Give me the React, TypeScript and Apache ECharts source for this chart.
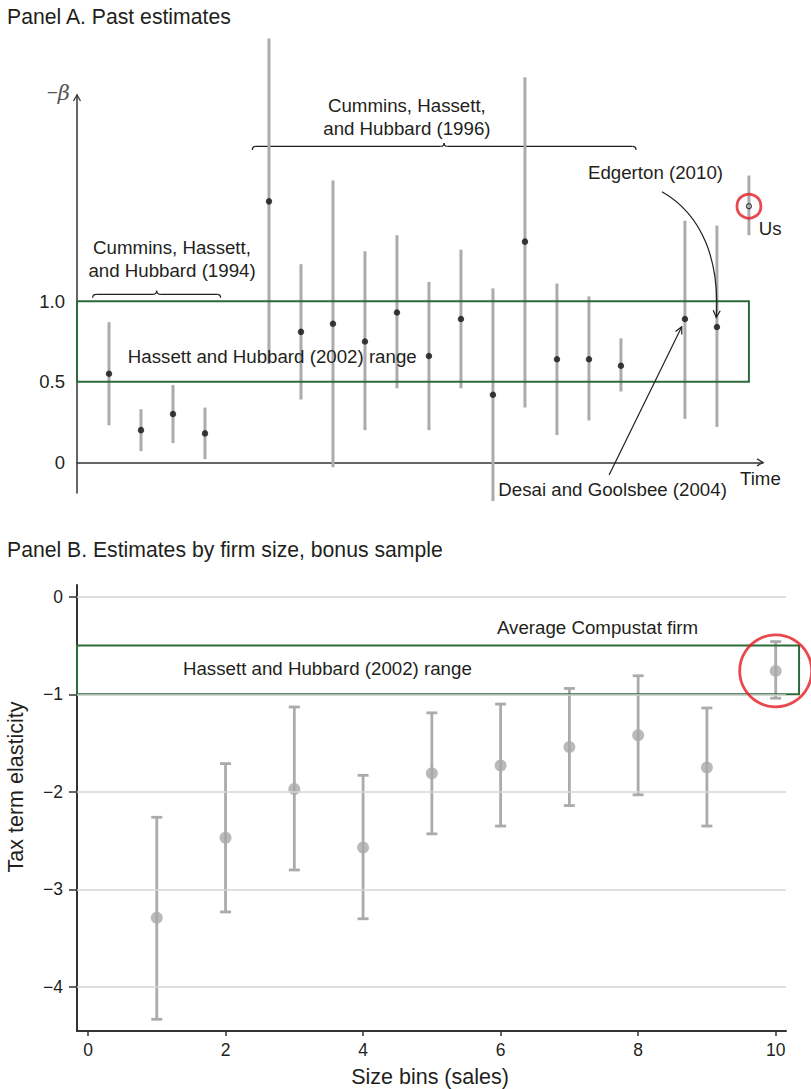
import React, { useEffect, useRef } from "react";
import * as echarts from "echarts";

const FONT = '"Liberation Sans", Arial, Helvetica, sans-serif';
const INK = "#231f20";
const BAR = "#ababad";
const DOT_B = "#a9a9ab";
const GREEN = "#2b6a3a";
const RED = "#e41b22";
const AXIS = "#333333";
const ANN = 18.7;

// ---------------- Panel A: past estimates ----------------
const pastPos = [1, 2, 3, 4, 6, 7, 8, 9, 10, 11, 12, 13, 14, 15, 16, 17, 19, 20];
const pastEst = [0.55, 0.2, 0.3, 0.18, 1.62, 0.81, 0.86, 0.75, 0.93, 0.66, 0.89, 0.42, 1.37, 0.64, 0.64, 0.6, 0.89, 0.84];
const pastLow = [0.23, 0.07, 0.12, 0.02, 0.61, 0.39, -0.03, 0.2, 0.46, 0.2, 0.46, -0.24, 0.34, 0.17, 0.26, 0.44, 0.27, 0.22];
const pastHigh = [0.87, 0.33, 0.48, 0.34, 2.63, 1.23, 1.75, 1.31, 1.41, 1.12, 1.32, 1.08, 2.39, 1.11, 1.03, 0.77, 1.5, 1.47];
const usPos = [21];
const usEst = [1.59];
const usLow = [1.41];
const usHigh = [1.78];
const hhRangeA = [0.5, 1.0];
const panelAYTicks = [0, 0.5, 1.0];

// ---------------- Panel B: estimates by firm size ----------------
const bins = [1, 2, 3, 4, 5, 6, 7, 8, 9, 10];
const binEst = [-3.29, -2.47, -1.97, -2.57, -1.81, -1.73, -1.54, -1.42, -1.75, -0.76];
const binLow = [-4.33, -3.23, -2.8, -3.3, -2.43, -2.35, -2.14, -2.03, -2.35, -1.04];
const binHigh = [-2.26, -1.71, -1.13, -1.83, -1.19, -1.1, -0.94, -0.81, -1.14, -0.46];
const hhRangeB = [-1, -0.5];
const panelBYTicks = [0, -1, -2, -3, -4];
const panelBXTicks = [0, 2, 4, 6, 8, 10];

const minus = (v: number) => (v < 0 ? "\u2212" + Math.abs(v) : String(v));

export default function App() {
  const ref = useRef<HTMLDivElement>(null);
  useEffect(() => {
    document.body.style.margin = "0";
    const chart = echarts.init(ref.current!, undefined, { renderer: "svg" });

    const rectItem = (params: any, api: any) => {
      const p0 = api.coord([api.value(0), api.value(1)]);
      const p1 = api.coord([api.value(2), api.value(3)]);
      return {
        type: "rect",
        shape: { x: p0[0], y: p1[1], width: p1[0] - p0[0], height: p0[1] - p1[1] },
        style: { fill: "none", stroke: GREEN, lineWidth: 2 },
      };
    };

    const option: any = {
      animation: false,
      backgroundColor: "#ffffff",
      grid: [
        { left: 77, top: 95, width: 686, height: 398 },
        { left: 77, top: 585, width: 709, height: 446 },
      ],
      xAxis: [
        {
          gridIndex: 0, type: "value", min: 0, max: 21.44,
          axisLine: { show: true, onZero: true, lineStyle: { color: AXIS, width: 1.5 } },
          axisTick: { show: false }, axisLabel: { show: false }, splitLine: { show: false },
        },
        {
          gridIndex: 1, type: "value", min: -0.16, max: 10.15,
          axisLine: { show: true, onZero: false, lineStyle: { color: AXIS, width: 2 } },
          axisTick: { show: true, length: 5, customValues: panelBXTicks, lineStyle: { color: AXIS, width: 1.5 } },
          axisLabel: { customValues: panelBXTicks, margin: 10, fontSize: 17.5, fontFamily: FONT, color: INK },
          splitLine: { show: false },
        },
      ],
      yAxis: [
        {
          gridIndex: 0, type: "value", min: -0.19, max: 2.28,
          axisLine: { show: true, onZero: false, lineStyle: { color: AXIS, width: 1.5 } },
          axisTick: { show: false },
          axisLabel: {
            customValues: panelAYTicks, margin: 12, fontSize: 18.5, fontFamily: FONT, color: INK,
            formatter: (v: number) => (v === 0 ? "0" : v.toFixed(1)),
          },
          splitLine: { show: false },
        },
        {
          gridIndex: 1, type: "value", min: -4.45, max: 0.12,
          axisLine: { show: true, onZero: false, lineStyle: { color: AXIS, width: 2 } },
          axisTick: { show: true, length: 8, customValues: panelBYTicks, lineStyle: { color: AXIS, width: 1.5 } },
          axisLabel: { customValues: panelBYTicks, margin: 14, fontSize: 17.5, fontFamily: FONT, color: INK, formatter: minus },
          splitLine: { show: false },
        },
      ],
      series: [
        // Panel A error bars
        {
          type: "custom", xAxisIndex: 0, yAxisIndex: 0, clip: false, silent: true, z: 2,
          data: pastPos.map((p, i) => [p, pastLow[i], pastHigh[i]]).concat(usPos.map((p, i) => [p, usLow[i], usHigh[i]])),
          renderItem: (params: any, api: any) => {
            const a = api.coord([api.value(0), api.value(1)]);
            const b = api.coord([api.value(0), api.value(2)]);
            return { type: "line", shape: { x1: a[0], y1: a[1], x2: b[0], y2: b[1] }, style: { stroke: BAR, lineWidth: 3 } };
          },
        },
        // Panel A range box
        {
          type: "custom", xAxisIndex: 0, yAxisIndex: 0, clip: false, silent: true, z: 3,
          data: [[0, hhRangeA[0], usPos[0], hhRangeA[1]]],
          renderItem: rectItem,
        },
        // Panel A point estimates
        {
          type: "scatter", xAxisIndex: 0, yAxisIndex: 0, silent: true, z: 4, symbol: "circle", symbolSize: 6.5,
          itemStyle: { color: "#111" },
          data: pastPos.map((p, i) => [p, pastEst[i]]),
        },
        {
          type: "scatter", xAxisIndex: 0, yAxisIndex: 0, silent: true, z: 4, symbol: "circle", symbolSize: 5,
          itemStyle: { color: "rgba(0,0,0,0)", borderColor: INK, borderWidth: 1.3 },
          data: usPos.map((p, i) => [p, usEst[i]]),
        },
        {
          type: "scatter", xAxisIndex: 0, yAxisIndex: 0, silent: true, z: 5, clip: false, symbol: "circle", symbolSize: 24,
          itemStyle: { color: "rgba(0,0,0,0)", borderColor: RED, borderWidth: 2.8 },
          data: usPos.map((p, i) => [p, usEst[i]]),
        },
        // Panel B grid lines
        {
          type: "scatter", xAxisIndex: 1, yAxisIndex: 1, silent: true, z: 1, data: [],
          markLine: {
            silent: true, symbol: "none", label: { show: false },
            lineStyle: { color: "#d6d6d6", type: "solid", width: 1.5 },
            data: panelBYTicks.map((v) => ({ yAxis: v })),
          },
        },
        // Panel B error bars with caps
        {
          type: "custom", xAxisIndex: 1, yAxisIndex: 1, clip: false, silent: true, z: 2,
          data: bins.map((b, i) => [b, binLow[i], binHigh[i]]),
          renderItem: (params: any, api: any) => {
            const a = api.coord([api.value(0), api.value(1)]);
            const b = api.coord([api.value(0), api.value(2)]);
            const st = { stroke: BAR, lineWidth: 2.8 };
            const cw = 5.5;
            return {
              type: "group",
              children: [
                { type: "line", shape: { x1: a[0], y1: a[1], x2: b[0], y2: b[1] }, style: st },
                { type: "line", shape: { x1: a[0] - cw, y1: a[1], x2: a[0] + cw, y2: a[1] }, style: st },
                { type: "line", shape: { x1: b[0] - cw, y1: b[1], x2: b[0] + cw, y2: b[1] }, style: st },
              ],
            };
          },
        },
        // Panel B range box
        {
          type: "custom", xAxisIndex: 1, yAxisIndex: 1, clip: false, silent: true, z: 3,
          data: [[-0.16, hhRangeB[0], 10.34, hhRangeB[1]]],
          renderItem: rectItem,
        },
        {
          type: "scatter", xAxisIndex: 1, yAxisIndex: 1, silent: true, z: 4, symbol: "circle", symbolSize: 12,
          itemStyle: { color: DOT_B },
          data: bins.map((b, i) => [b, binEst[i]]),
        },
        {
          type: "scatter", xAxisIndex: 1, yAxisIndex: 1, silent: true, z: 5, clip: false, symbol: "circle", symbolSize: 72,
          itemStyle: { color: "rgba(0,0,0,0)", borderColor: RED, borderWidth: 2.8 },
          data: [[bins[9], binEst[9]]],
        },
      ],
    };
    chart.setOption(option);

    const A = (x: number, y: number) => chart.convertToPixel({ gridIndex: 0 } as any, [x, y]) as number[];
    const B = (x: number, y: number) => chart.convertToPixel({ gridIndex: 1 } as any, [x, y]) as number[];

    const txt = (p: number[], text: string, extra: any = {}) => ({
      type: "text", x: p[0], y: p[1], silent: true, z: 10,
      style: { text, fontSize: ANN, fontFamily: FONT, fill: INK, align: "left", verticalAlign: "middle", ...extra },
    });
    const lineSt = { stroke: INK, lineWidth: 1.2 };
    const brace = (xa: number, xb: number, y: number, d = 4) => {
      const xm = (xa + xb) / 2;
      return [
        { type: "bezierCurve", shape: { x1: xa, y1: y + d, cpx1: xa, cpy1: y, x2: xa + d, y2: y }, style: lineSt, silent: true },
        { type: "line", shape: { x1: xa + d, y1: y, x2: xm - d, y2: y }, style: lineSt, silent: true },
        { type: "bezierCurve", shape: { x1: xm - d, y1: y, cpx1: xm, cpy1: y, x2: xm, y2: y - d }, style: lineSt, silent: true },
        { type: "bezierCurve", shape: { x1: xm, y1: y - d, cpx1: xm, cpy1: y, x2: xm + d, y2: y }, style: lineSt, silent: true },
        { type: "line", shape: { x1: xm + d, y1: y, x2: xb - d, y2: y }, style: lineSt, silent: true },
        { type: "bezierCurve", shape: { x1: xb - d, y1: y, cpx1: xb, cpy1: y, x2: xb, y2: y + d }, style: lineSt, silent: true },
      ];
    };
    const chevron = (tip: number[], from: number[], len = 7, hw = 3.5, st: any = lineSt) => {
      const dx = tip[0] - from[0];
      const dy = tip[1] - from[1];
      const L = Math.hypot(dx, dy) || 1;
      const ux = dx / L, uy = dy / L, nx = -uy, ny = ux;
      const bx = tip[0] - ux * len, by = tip[1] - uy * len;
      return {
        type: "polyline", silent: true, z: 10,
        shape: { points: [[bx + nx * hw, by + ny * hw], tip, [bx - nx * hw, by - ny * hw]] },
        style: { ...st, fill: null },
      };
    };

    // Panel A annotation anchors (data units)
    const b94 = [A(0.49, 1.043), A(4.49, 1.043)];
    const b96 = [A(5.48, 1.961), A(17.47, 1.961)];
    const eStart = A(18.28, 1.68), eCp1 = A(19.56, 1.537), eCp2 = A(20.09, 1.245), eEnd = A(19.98, 0.899);
    const dStart = A(16.63, -0.078), dEnd = A(18.9, 0.842);
    const yTop = A(0, 2.28), xRight = A(21.44, 0);

    const graphic: any[] = [
      txt([7, 16], "Panel A. Past estimates", { fontSize: 21.2 }),
      txt([7, 549], "Panel B. Estimates by firm size, bonus sample", { fontSize: 21.2 }),
      {
        type: "text", x: A(-0.22, 2.295)[0], y: A(-0.22, 2.295)[1], silent: true,
        style: {
          text: "{m|\u2212}{b|\u03b2}", align: "right", verticalAlign: "middle",
          rich: {
            m: { fontSize: 19, fontFamily: FONT, fill: "#555" },
            b: { fontSize: 21, fontFamily: '"DejaVu Serif", "Liberation Serif", serif', fontStyle: "italic", fill: "#555" },
          },
        },
      },
      chevron(yTop, [yTop[0], yTop[1] + 10], 6, 3.5, { stroke: AXIS, lineWidth: 1.3 }),
      chevron(xRight, [xRight[0] - 10, xRight[1]], 6, 3.5, { stroke: AXIS, lineWidth: 1.3 }),
      ...brace(b94[0][0], b94[1][0], b94[0][1], 3.5),
      ...brace(b96[0][0], b96[1][0], b96[0][1], 3.5),
      txt(A(2.97, 1.263), "Cummins, Hassett,\nand Hubbard (1994)", { align: "center", lineHeight: 22.5 }),
      txt(A(10.31, 2.143), "Cummins, Hassett,\nand Hubbard (1996)", { align: "center", lineHeight: 22.5 }),
      txt(A(1.59, 0.66), "Hassett and Hubbard (2002) range"),
      txt(A(18.08, 1.796), "Edgerton (2010)", { align: "center" }),
      {
        type: "bezierCurve", silent: true, z: 10,
        shape: { x1: eStart[0], y1: eStart[1], cpx1: eCp1[0], cpy1: eCp1[1], cpx2: eCp2[0], cpy2: eCp2[1], x2: eEnd[0], y2: eEnd[1] },
        style: { ...lineSt, fill: null },
      },
      chevron(eEnd, eCp2, 7, 3.5),
      txt(A(21.31, 1.449), "Us"),
      txt(A(16.74, -0.171), "Desai and Goolsbee (2004)", { align: "center" }),
      { type: "line", silent: true, z: 10, shape: { x1: dStart[0], y1: dStart[1], x2: dEnd[0], y2: dEnd[1] }, style: lineSt },
      chevron(dEnd, dStart, 7, 3.5),
      txt(A(20.72, -0.097), "Time"),
      // Panel B annotations
      txt(B(1.381, -0.731), "Hassett and Hubbard (2002) range"),
      txt(B(7.41, -0.318), "Average Compustat firm", { align: "center" }),
      txt([430, 1077], "Size bins (sales)", { align: "center", fontSize: 21.5 }),
      { ...txt([16, 787], "Tax term elasticity", { align: "center", fontSize: 21.5 }), rotation: Math.PI / 2 },
    ];
    chart.setOption({ graphic });

    return () => chart.dispose();
  }, []);
  return <div ref={ref} style={{ position: "absolute", left: 0, top: 0, width: 811, height: 1089 }} />;
}
